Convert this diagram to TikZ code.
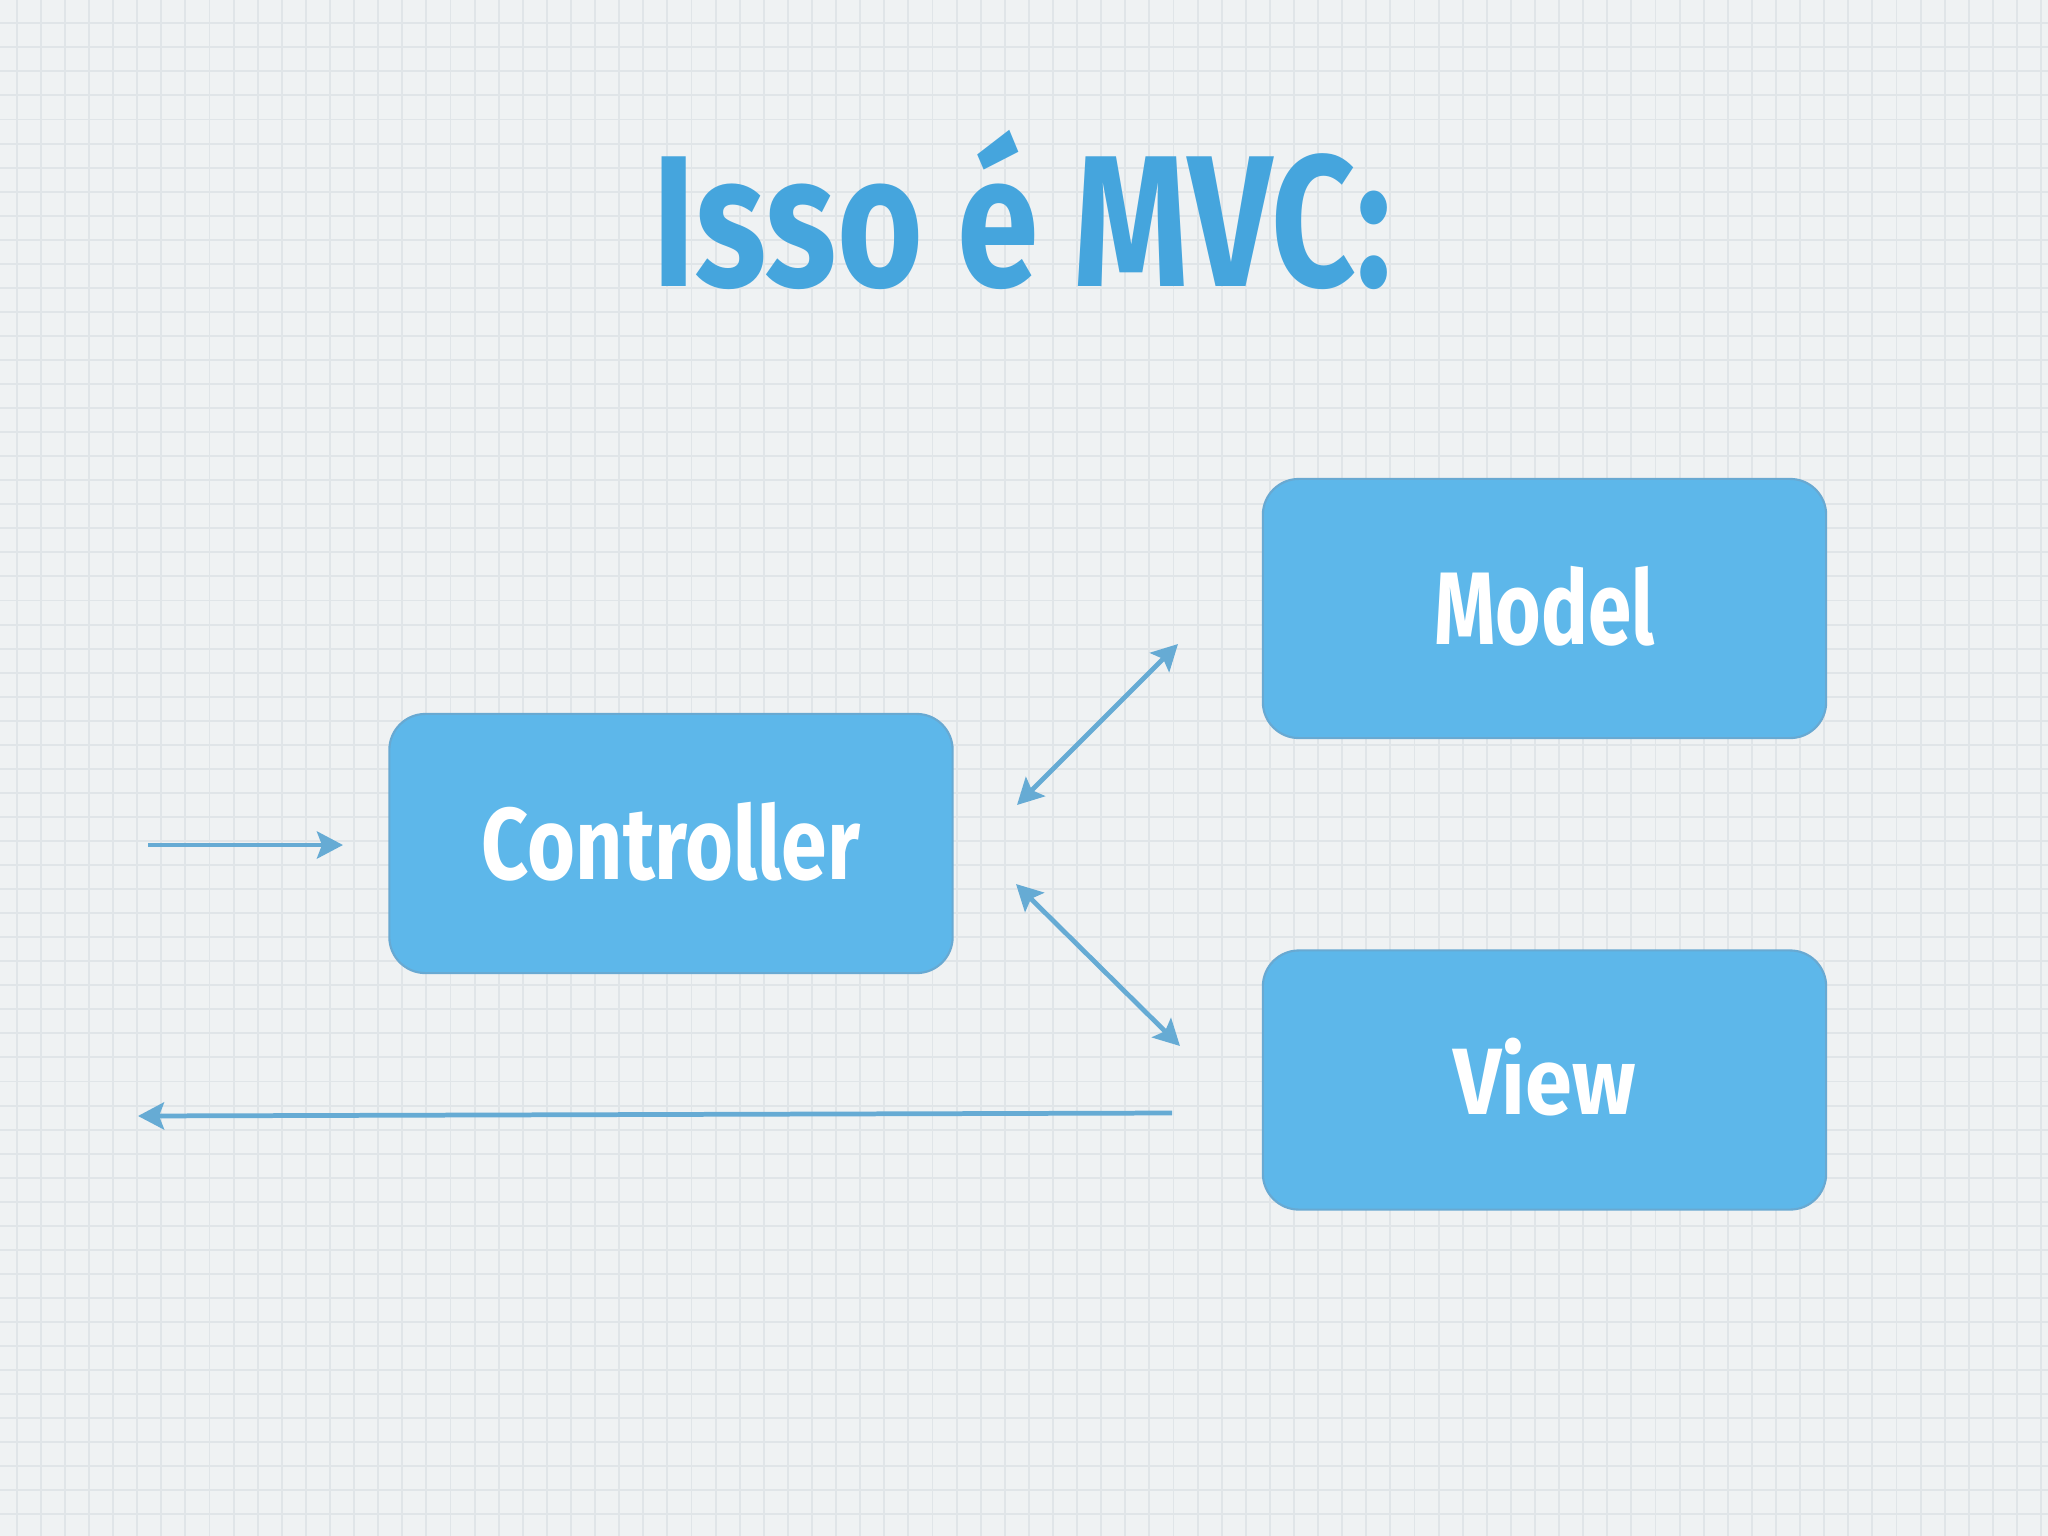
\documentclass[tikz,border=0pt]{standalone}
\usepackage{fontspec}
\setmainfont{Fira Sans}
\usetikzlibrary{arrows.meta}
\definecolor{bgc}{HTML}{EFF2F3}
\definecolor{gridc}{HTML}{E0E5E8}
\definecolor{titlec}{HTML}{45A5DD}
\definecolor{boxc}{HTML}{5DB7EA}
\definecolor{boxline}{HTML}{68A9D2}
\definecolor{arrc}{HTML}{66ABD4}
\tikzset{
  tip/.tip={Stealth[length=0.26cm,width=0.27cm,inset=0.05cm,color=arrc,fill=arrc]},
  box/.style={draw=boxline, line width=0.6pt, fill=boxc, rounded corners=0.36cm,
    minimum width=5.63cm, minimum height=2.59cm, inner sep=0pt, text=white},
  conn/.style={color=arrc, line width=1.35pt, -{tip}},
  twoway/.style={color=arrc, line width=1.35pt, {tip}-{tip}},
  gridline/.style={draw=gridc, line width=0.55pt},
  titletext/.style={text=titlec, inner sep=0pt}
}
\begin{document}
\begin{tikzpicture}[x=0.01cm,y=-0.01cm]
\fill[bgc] (0,0) rectangle (2048,1536);
\useasboundingbox (0,0) rectangle (2048,1536);
% grid
\foreach \i in {0,...,84} {
  \draw[gridline] ({16.7+24.1*\i},0) -- ({16.7+24.1*\i},1536);
}
\foreach \j in {0,...,63} {
  \draw[gridline] (0,{23.3+24.05*\j}) -- (2048,{23.3+24.05*\j});
}
% title
\node[titletext] (title) at (1022,222) {\resizebox*{7.38cm}{1.36cm}{\bfseries Isso \smash{é} MVC:}};
% boxes
\node[box] (model) at (1544.5,608.5) {\raisebox{0.065cm}{\resizebox*{2.20cm}{0.80cm}{\bfseries Model}}};
\node[box] (controller) at (671,843.5) {\raisebox{0.06cm}{\resizebox*{3.78cm}{0.79cm}{\bfseries Controller}}};
\node[box] (view) at (1544.5,1080) {\raisebox{0.08cm}{\resizebox*{1.82cm}{0.78cm}{\bfseries View}}};
% connector ends
\coordinate (inA) at (148,845);
\coordinate (inB) at (343,845);
\coordinate (cmA) at (1017,805);
\coordinate (cmB) at (1178,644);
\coordinate (cvA) at (1016,884);
\coordinate (cvB) at (1180,1046);
\coordinate (outA) at (1172,1113);
\coordinate (outB) at (138,1116);
% connectors
\draw[conn] (inA) -- (inB);
\draw[twoway] (cmA) -- (cmB);
\draw[twoway] (cvA) -- (cvB);
\draw[conn] (outA) -- (outB);
\end{tikzpicture}
\end{document}
